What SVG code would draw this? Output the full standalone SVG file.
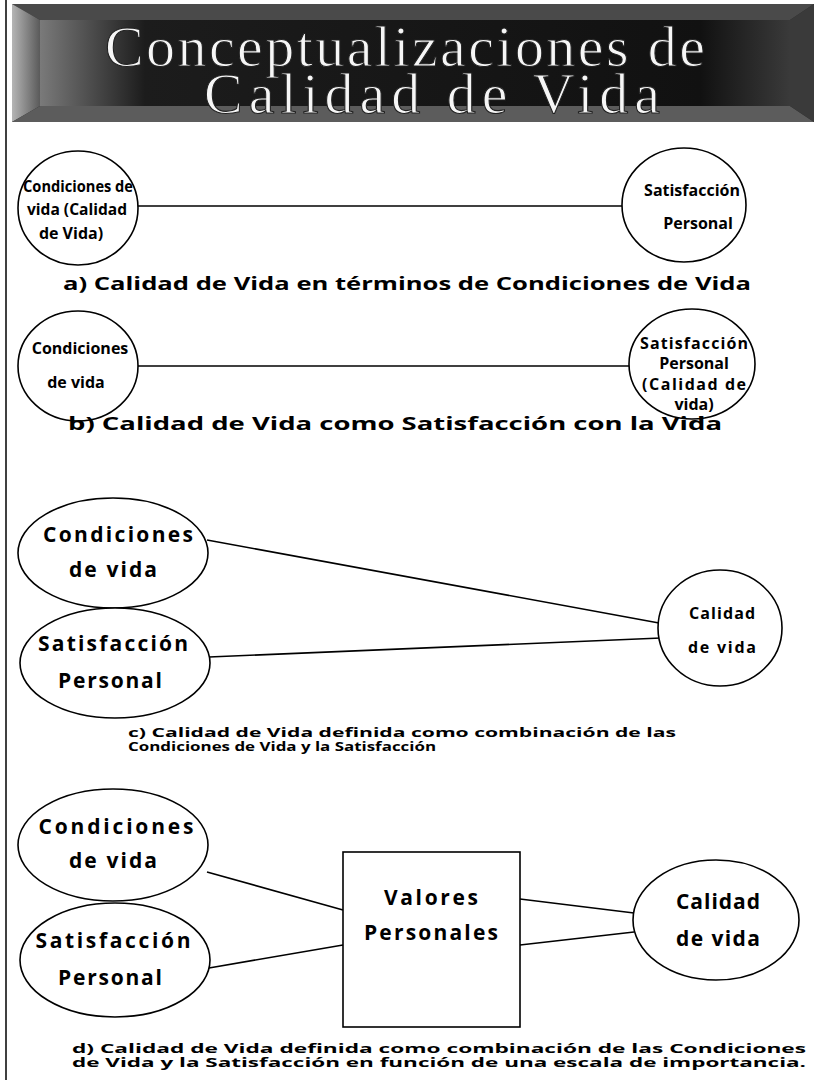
<svg xmlns="http://www.w3.org/2000/svg" width="814" height="1080" viewBox="0 0 814 1080">
<defs>
<linearGradient id="bevL" x1="0" y1="0" x2="1" y2="0">
<stop offset="0" stop-color="#b5b5b5"/><stop offset="1" stop-color="#5a5a5a"/>
</linearGradient>
<linearGradient id="panel" x1="0" y1="0" x2="1" y2="0">
<stop offset="0" stop-color="#7a7a7a"/><stop offset="0.14" stop-color="#1c1c1c"/><stop offset="0.88" stop-color="#111"/><stop offset="1" stop-color="#3a3a3a"/>
</linearGradient>
<style>
.n{fill:#fff;stroke:#000;stroke-width:1.6}
.c{stroke:#000;stroke-width:1.6;fill:none}
.t{font-family:"Open Sans","DejaVu Sans",sans-serif;font-weight:700;font-size:16px;fill:#000;text-anchor:middle}
.b{font-size:21px}
.cap{font-family:"Open Sans","DejaVu Sans",sans-serif;font-weight:700;font-size:17px;fill:#000}
.sm{font-size:12.5px}
.ttl{font-family:"Liberation Serif","DejaVu Serif",serif;font-size:58px;fill:#f6f6f6;stroke:#222;stroke-width:1.1;text-anchor:middle}
</style>
</defs>
<rect width="814" height="1080" fill="#fff"/>
<line x1="6" y1="0" x2="6" y2="1080" stroke="#000" stroke-width="1.5"/>

<g id="banner">
<rect x="12" y="4" width="802" height="118" fill="#2a2a2a"/>
<polygon points="12,4 814,4 790,20 40,20" fill="#4a4a4a"/>
<polygon points="12,4 40,20 40,106 12,122" fill="url(#bevL)"/>
<polygon points="12,122 40,106 790,106 814,122" fill="#5c5c5c"/>
<polygon points="814,4 790,20 790,106 814,122" fill="#3a3a3a"/>
<rect x="40" y="20" width="750" height="86" fill="url(#panel)"/>
<text class="ttl" x="405" y="66" textLength="600" lengthAdjust="spacing">Conceptualizaciones de</text>
<text class="ttl" x="432" y="113" textLength="456" lengthAdjust="spacing">Calidad de Vida</text>
</g>

<g id="connectors">
<line class="c" x1="138" y1="206" x2="622" y2="206"/>
<line class="c" x1="138" y1="366" x2="629" y2="366"/>
<line class="c" x1="207" y1="540" x2="659" y2="623"/>
<line class="c" x1="209" y1="657" x2="661" y2="638"/>
<line class="c" x1="207" y1="872" x2="343" y2="910"/>
<line class="c" x1="209" y1="968" x2="343" y2="945"/>
<line class="c" x1="520" y1="899" x2="634" y2="913"/>
<line class="c" x1="520" y1="945" x2="634" y2="932"/>
</g>

<g id="a-condiciones">
<ellipse class="n" cx="78" cy="208" rx="60" ry="57"/>
<text class="t" x="78" y="192" textLength="110" lengthAdjust="spacingAndGlyphs">Condiciones de</text>
<text class="t" x="77" y="215" textLength="100" lengthAdjust="spacingAndGlyphs">vida (Calidad</text>
<text class="t" x="71" y="239">de Vida)</text>
</g>
<g id="a-satisfaccion">
<ellipse class="n" cx="684" cy="205" rx="62" ry="57"/>
<text class="t" x="692" y="196">Satisfacción</text>
<text class="t" x="698" y="229">Personal</text>
</g>
<text class="cap" x="407" y="290" text-anchor="middle" textLength="688" lengthAdjust="spacingAndGlyphs">a) Calidad de Vida en términos de Condiciones de Vida</text>

<g id="b-condiciones">
<ellipse class="n" cx="78" cy="366" rx="60" ry="55"/>
<text class="t" x="80" y="354">Condiciones</text>
<text class="t" x="76" y="388">de vida</text>
</g>
<g id="b-satisfaccion">
<ellipse class="n" cx="692" cy="364" rx="63" ry="55"/>
<text class="t" x="694" y="349" textLength="108" lengthAdjust="spacing">Satisfacción</text>
<text class="t" x="694" y="369">Personal</text>
<text class="t" x="694" y="390" textLength="104" lengthAdjust="spacing">(Calidad de</text>
<text class="t" x="694" y="410">vida)</text>
</g>
<text class="cap" x="395" y="430" text-anchor="middle" textLength="654" lengthAdjust="spacingAndGlyphs">b) Calidad de Vida como Satisfacción con la Vida</text>

<g id="c-condiciones">
<ellipse class="n" cx="113" cy="553" rx="95" ry="55"/>
<text class="t b" x="118" y="542" textLength="150" lengthAdjust="spacing">Condiciones</text>
<text class="t b" x="113" y="577" textLength="88" lengthAdjust="spacing">de vida</text>
</g>
<g id="c-satisfaccion">
<ellipse class="n" cx="115" cy="663" rx="95" ry="55"/>
<text class="t b" x="113" y="651" textLength="150" lengthAdjust="spacing">Satisfacción</text>
<text class="t b" x="110" y="688" textLength="104" lengthAdjust="spacing">Personal</text>
</g>
<g id="c-calidad">
<ellipse class="n" cx="720" cy="628" rx="62" ry="58"/>
<text class="t" x="722" y="619" textLength="66" lengthAdjust="spacing">Calidad</text>
<text class="t" x="722" y="653" textLength="68" lengthAdjust="spacing">de vida</text>
</g>
<text class="cap sm" x="128" y="737" textLength="548" lengthAdjust="spacingAndGlyphs">c) Calidad de Vida definida como combinación de las</text>
<text class="cap sm" x="128" y="751" textLength="308" lengthAdjust="spacingAndGlyphs">Condiciones de Vida y la Satisfacción</text>

<g id="d-condiciones">
<ellipse class="n" cx="113" cy="845" rx="95" ry="56"/>
<text class="t b" x="116" y="834" textLength="155" lengthAdjust="spacing">Condiciones</text>
<text class="t b" x="113" y="868" textLength="88" lengthAdjust="spacing">de vida</text>
</g>
<g id="d-satisfaccion">
<ellipse class="n" cx="115" cy="960" rx="95" ry="57"/>
<text class="t b" x="113" y="948" textLength="155" lengthAdjust="spacing">Satisfacción</text>
<text class="t b" x="110" y="985" textLength="104" lengthAdjust="spacing">Personal</text>
</g>
<g id="d-valores">
<rect class="n" x="343" y="852" width="177" height="175"/>
<text class="t b" x="431" y="905" textLength="94" lengthAdjust="spacing">Valores</text>
<text class="t b" x="431" y="940" textLength="134" lengthAdjust="spacing">Personales</text>
</g>
<g id="d-calidad">
<ellipse class="n" cx="716" cy="920" rx="83" ry="60"/>
<text class="t b" x="718" y="909" textLength="84" lengthAdjust="spacing">Calidad</text>
<text class="t b" x="718" y="946" textLength="84" lengthAdjust="spacing">de vida</text>
</g>
<text class="cap sm" x="72" y="1053" textLength="734" lengthAdjust="spacingAndGlyphs">d) Calidad de Vida definida como combinación de las Condiciones</text>
<text class="cap sm" x="72" y="1067" textLength="734" lengthAdjust="spacingAndGlyphs">de Vida y la Satisfacción en función de una escala de importancia.</text>
</svg>
